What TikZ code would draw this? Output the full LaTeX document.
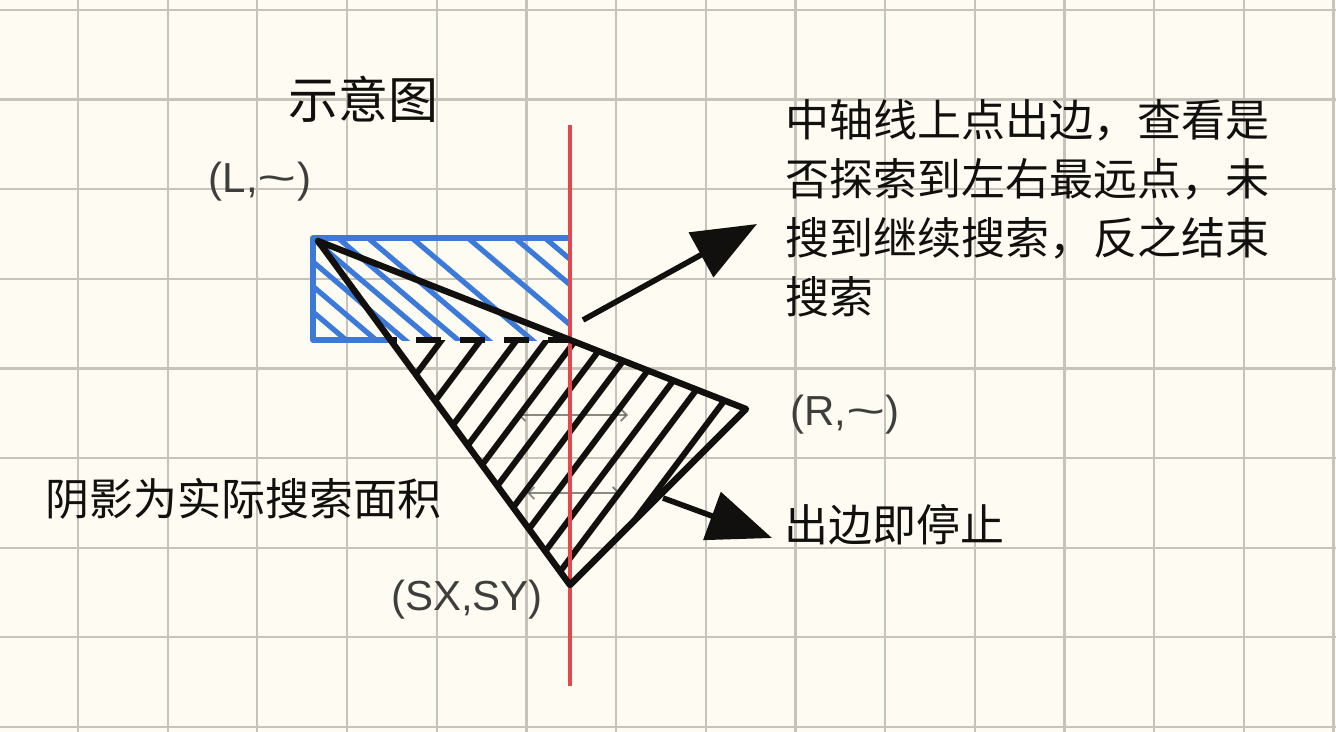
\documentclass[tikz,border=0pt]{standalone}
\usepackage{fontspec}
\newfontfamily\cjk{Noto Sans CJK SC}
\newfontfamily\hand{Liberation Sans}
\usetikzlibrary{arrows.meta}

\definecolor{paper}{RGB}{253,251,242}
\definecolor{gridgray}{RGB}{200,195,186}
\definecolor{hatchblue}{RGB}{60,122,218}
\definecolor{axisred}{RGB}{226,72,76}
\definecolor{ink}{RGB}{18,16,14}
\definecolor{pencil}{RGB}{62,62,60}

\newcommand{\wavy}{\scalebox{1.6}[1]{\textasciitilde}}

\tikzset{
  gridline/.style={draw=gridgray,line width=1.1pt},
  blueline/.style={draw=hatchblue,line width=2.6pt},
  blackline/.style={draw=ink,line width=3.2pt,line join=round,line cap=round},
  hatchline/.style={draw=ink,line width=3pt},
  bigarrow/.style={draw=ink,line width=2.8pt,-{Triangle[length=32pt,width=25pt]}},
  faintarrow/.style={draw=pencil,line width=0.9pt,opacity=0.6,
    {Straight Barb[length=3pt,width=6pt]}-{Straight Barb[length=3pt,width=6pt]}},
  note/.style={font=\cjk\fontsize{22}{29.5}\selectfont,text=ink,inner sep=0pt},
  coordlabel/.style={font=\hand\fontsize{21}{24}\selectfont,text=pencil,inner sep=0pt}
}

\begin{document}
\begin{tikzpicture}[x=0.5pt,y=-0.5pt]
  \fill[paper] (0,0) rectangle (1336,732);
  \useasboundingbox (0,0) rectangle (1336,732);

  % squared paper
  \foreach \i in {0,...,14} {
    \draw[gridline] ({78+89.68*\i},0) -- ({78+89.68*\i},732);
  }
  \foreach \j in {0,...,8} {
    \draw[gridline] (0,{10+89.6*\j}) -- (1336,{10+89.6*\j});
  }

  % corners of the search area
  \coordinate (L) at (318,241);
  \coordinate (R) at (746,409);
  \coordinate (S) at (570,585);
  \coordinate (M) at (570,340);
  \coordinate (A) at (391,340);
  \coordinate (boxtr) at (570,238);
  \coordinate (boxtl) at (313,238);
  \coordinate (boxbl) at (313,340);

  % blue box
  \begin{scope}
    \clip (boxtl) rectangle (M);
    \foreach \c in {226,256,285,312,338,368,412,468,515,545} {
      \draw[blueline] (\c,238) -- ++(160,136);
    }
  \end{scope}
  \draw[blueline,line join=round] (boxtr) -- (boxtl) -- (boxbl) -- (A);

  % faint sweep marks
  \coordinate (sweepAl) at (518,415);
  \coordinate (sweepAr) at (628,415);
  \coordinate (sweepBl) at (527,493);
  \coordinate (sweepBr) at (620,493);
  \draw[faintarrow] (sweepAl) -- (sweepAr);
  \draw[faintarrow] (sweepBl) -- (sweepBr);

  % black hatching
  \begin{scope}
    \clip (A) -- (M) -- (R) -- (S) -- cycle;
    \foreach \c in {258,297,333,363,392,423,455,487,520,550,586} {
      \draw[hatchline] (\c,585) -- ++(240,-320);
    }
  \end{scope}
  \draw[blackline,line cap=butt,dash pattern=on 12.5pt off 9.5pt,dash phase=9.5pt] (A) -- (M);

  % middle axis
  \coordinate (axistop) at (570,125);
  \coordinate (axisbot) at (570,686);
  \draw[draw=axisred,line width=1.8pt] (axistop) -- (axisbot);

  \draw[blackline] (L) -- (R) -- (S) -- cycle;

  % arrows
  \coordinate (exit) at (583,320);
  \coordinate (exittip) at (757,224);
  \coordinate (stop) at (663,498);
  \coordinate (stoptip) at (772,538);
  \draw[bigarrow] (exit) -- (exittip);
  \draw[bigarrow] (stop) -- (stoptip);

  % texts
  \node[note,font=\cjk\fontsize{25}{30}\selectfont,anchor=base west] (title) at (288,119) {示意图};
  \node[note,anchor=north west,align=left] (explain) at (785,99)
    {中轴线上点出边，查看是\\否探索到左右最远点，未\\搜到继续搜索，反之结束\\搜索};
  \node[note,anchor=base west] (shadenote) at (45,515) {阴影为实际搜索面积};
  \node[note,anchor=base west] (stopnote) at (784,541) {出边即停止};
  \node[coordlabel] (Llabel) at (260,182) {(L,\wavy)};
  \node[coordlabel] (Rlabel) at (845,415) {(R,\wavy)};
  \node[coordlabel] (Slabel) at (467,600) {(SX,SY)};
\end{tikzpicture}
\end{document}
